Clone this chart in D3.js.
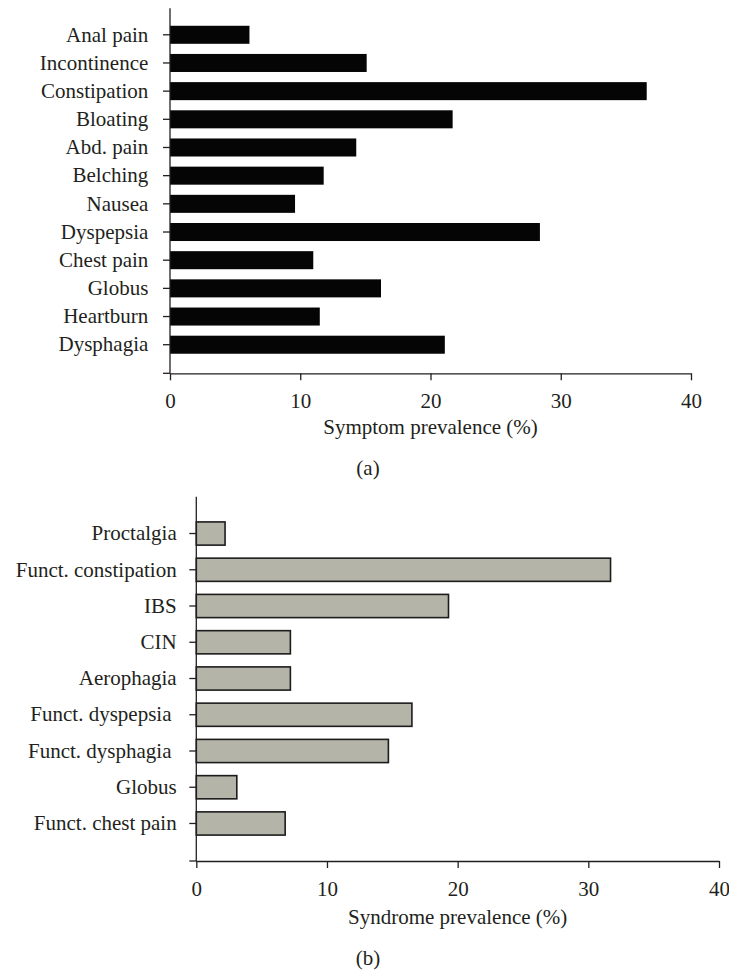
<!DOCTYPE html>
<meta charset="utf-8">
<script src="https://d3js.org/d3.v7.min.js"></script>
<style>
  body { margin: 0; background: #fff; }
  text { font-family: "Liberation Serif", serif; fill: #231f20; }
</style>
<div id="chart"></div>
<script>

// panel (a): symptoms
var symptoms = ["Anal pain", "Incontinence", "Constipation", "Bloating", "Abd. pain", "Belching",
                "Nausea", "Dyspepsia", "Chest pain", "Globus", "Heartburn", "Dysphagia"];
var symptomValues = [6.1, 15.1, 36.6, 21.7, 14.3, 11.8, 9.6, 28.4, 11.0, 16.2, 11.5, 21.1];

// panel (b): syndromes (two labels carry a trailing space in the original)
var syndromes = ["Proctalgia", "Funct. constipation", "IBS", "CIN", "Aerophagia",
                 "Funct. dyspepsia ", "Funct. dysphagia ", "Globus", "Funct. chest pain"];
var syndromeValues = [2.2, 31.7, 19.3, 7.2, 7.2, 16.5, 14.7, 3.1, 6.8];

var xTicks = [0, 10, 20, 30, 40];

var svg = d3.select("#chart").append("svg")
    .attr("width", 729)
    .attr("height", 970);

function drawPanel(cfg) {
  var g = svg.append("g");

  var x = d3.scaleLinear().domain([0, 40]).range([cfg.x0, cfg.x1]);
  var y = d3.scaleBand()
      .domain(cfg.cats)
      .range([cfg.bandTop, cfg.bandBottom])
      .paddingInner(0.36)
      .paddingOuter(0.18);

  var data = cfg.cats.map(function(c, i) { return {cat: c, v: cfg.vals[i]}; });

  // bars
  g.selectAll("rect.bar")
    .data(data)
    .join("rect")
      .attr("class", "bar")
      .attr("x", x(0))
      .attr("y", d => y(d.cat))
      .attr("width", d => x(d.v) - x(0))
      .attr("height", y.bandwidth())
      .attr("fill", cfg.fill)
      .attr("stroke", cfg.stroke)
      .attr("stroke-width", cfg.strokeWidth);

  // y axis (categories)
  var yAxis = g.append("g")
      .attr("transform", "translate(" + x(0) + ",0)")
      .call(d3.axisLeft(y).tickSize(7).tickSizeOuter(0).tickPadding(cfg.labelPad));
  yAxis.select(".domain").remove();
  yAxis.selectAll("line").attr("stroke", "#231f20").attr("stroke-width", 1.3);
  yAxis.selectAll("text")
      .attr("font-size", 21)
      .style("white-space", "pre")
      .attr("fill", "#231f20");

  g.append("line")
      .attr("x1", x(0)).attr("x2", x(0))
      .attr("y1", cfg.axisTop).attr("y2", cfg.axisBottom)
      .attr("stroke", "#231f20").attr("stroke-width", 1.3);

  // x axis
  var xAxis = g.append("g")
      .attr("transform", "translate(0," + cfg.axisBottom + ")")
      .call(d3.axisBottom(x).tickValues(xTicks).tickSize(7).tickSizeOuter(0).tickPadding(12.7));
  xAxis.select(".domain").attr("stroke", "#231f20").attr("stroke-width", 1.3);
  xAxis.selectAll("line").attr("stroke", "#231f20").attr("stroke-width", 1.3);
  xAxis.selectAll("text").attr("font-size", 21).attr("fill", "#231f20");

  // small outer tick to the left of the origin
  g.append("line")
      .attr("x1", x(0) - 7).attr("x2", x(0))
      .attr("y1", cfg.axisBottom).attr("y2", cfg.axisBottom)
      .attr("stroke", "#231f20").attr("stroke-width", 1.3);

  // axis title
  g.append("text")
      .attr("x", (cfg.x0 + cfg.x1) / 2)
      .attr("y", cfg.titleY)
      .attr("text-anchor", "middle")
      .attr("font-size", 21)
      .text(cfg.title);

  // panel letter
  g.append("text")
      .attr("x", 368)
      .attr("y", cfg.letterY)
      .attr("text-anchor", "middle")
      .attr("font-size", 21)
      .text(cfg.letter);
}

drawPanel({
  cats: symptoms, vals: symptomValues,
  x0: 170, x1: 691,
  bandTop: 20.7, bandBottom: 358.8,
  axisTop: 8.3, axisBottom: 373.3,
  labelPad: 14.7,
  fill: "#050505", stroke: "none", strokeWidth: 0,
  title: "Symptom prevalence (%)", titleY: 433.5,
  letter: "(a)", letterY: 475
});

drawPanel({
  cats: syndromes, vals: syndromeValues,
  x0: 196.3, x1: 719,
  bandTop: 515.4, bandBottom: 841.6,
  axisTop: 496.7, axisBottom: 861,
  labelPad: 12.6,
  fill: "#b4b4a8", stroke: "#1c1c1c", strokeWidth: 1.6,
  title: "Syndrome prevalence (%)", titleY: 923.5,
  letter: "(b)", letterY: 964.5
});

</script>
